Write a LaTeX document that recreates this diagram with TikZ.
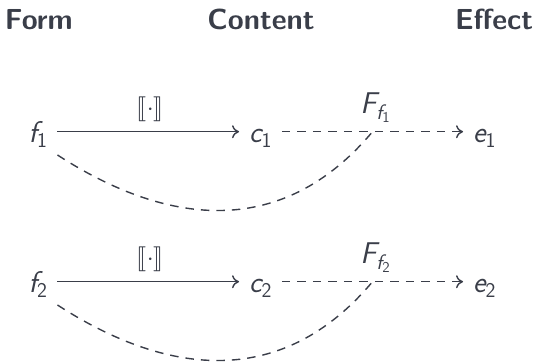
\documentclass[tikz,border=0pt]{standalone}
\usepackage{amsmath}
\usepackage{stmaryrd}
\usetikzlibrary{arrows.meta}
\definecolor{ink}{RGB}{58,62,73}
\newcommand{\svar}[1]{\textsf{\slshape #1}}
\tikzset{
  hdr/.style={font=\fontsize{29}{34}\selectfont\sffamily\bfseries, inner sep=0pt, outer sep=0pt},
  obj/.style={font=\fontsize{30}{36}\selectfont, inner xsep=10pt, inner ysep=0pt, outer sep=0pt, text height=33.6pt, text depth=13pt},
  lbl/.style={font=\fontsize{30}{36}\selectfont, inner sep=0pt, outer sep=0pt, anchor=base},
  arr/.style={line width=1.4pt, -{To[length=7pt,width=13pt]}},
  darr/.style={line width=1.4pt, dash pattern=on 8.5pt off 7pt, -{To[length=7pt,width=13pt]}},
  dsh/.style={line width=1.4pt, dash pattern=on 8.5pt off 7pt}
}
\begin{document}
\begin{tikzpicture}[x=1pt,y=1pt,color=ink]
\useasboundingbox (0,0) rectangle (533,-362);
\node[hdr, anchor=base west] (form) at (5,-29.5) {Form};
\node[hdr, anchor=base] (content) at (261,-29.5) {Content};
\node[hdr, anchor=base east] (effect) at (533,-29.5) {Effect};
% row 1
\node[obj] (f1) at (38,-131.7) {$\svar{f}_{\textsf{1}}$};
\node[obj] (c1) at (260.5,-131.7) {$\svar{c}_{\textsf{1}}$};
\node[obj] (e1) at (484.5,-131.7) {$\svar{e}_{\textsf{1}}$};
\draw[arr] (f1) -- coordinate[pos=0.5] (n1) (c1);
\draw[darr] (c1) -- coordinate[pos=0.5] (m1) (e1);
\node[lbl] (b1) at ([xshift=2pt,yshift=16.5pt]n1) {$\llbracket\cdot\rrbracket$};
\node[lbl] (F1) at ([xshift=3pt,yshift=18.4pt]m1) {$\svar{F}_{\svar{f}_{\textsf{1}}}$};
\draw[dsh] (f1.south east) to[out=-33, in=-130, out distance=125pt, in distance=145pt] (m1);
% row 2
\node[obj] (f2) at (38,-281.7) {$\svar{f}_{\textsf{2}}$};
\node[obj] (c2) at (260.5,-281.7) {$\svar{c}_{\textsf{2}}$};
\node[obj] (e2) at (484.5,-281.7) {$\svar{e}_{\textsf{2}}$};
\draw[arr] (f2) -- coordinate[pos=0.5] (n2) (c2);
\draw[darr] (c2) -- coordinate[pos=0.5] (m2) (e2);
\node[lbl] (b2) at ([xshift=2pt,yshift=16.5pt]n2) {$\llbracket\cdot\rrbracket$};
\node[lbl] (F2) at ([xshift=3pt,yshift=18.4pt]m2) {$\svar{F}_{\svar{f}_{\textsf{2}}}$};
\draw[dsh] (f2.south east) to[out=-33, in=-130, out distance=125pt, in distance=145pt] (m2);
\end{tikzpicture}
\end{document}
